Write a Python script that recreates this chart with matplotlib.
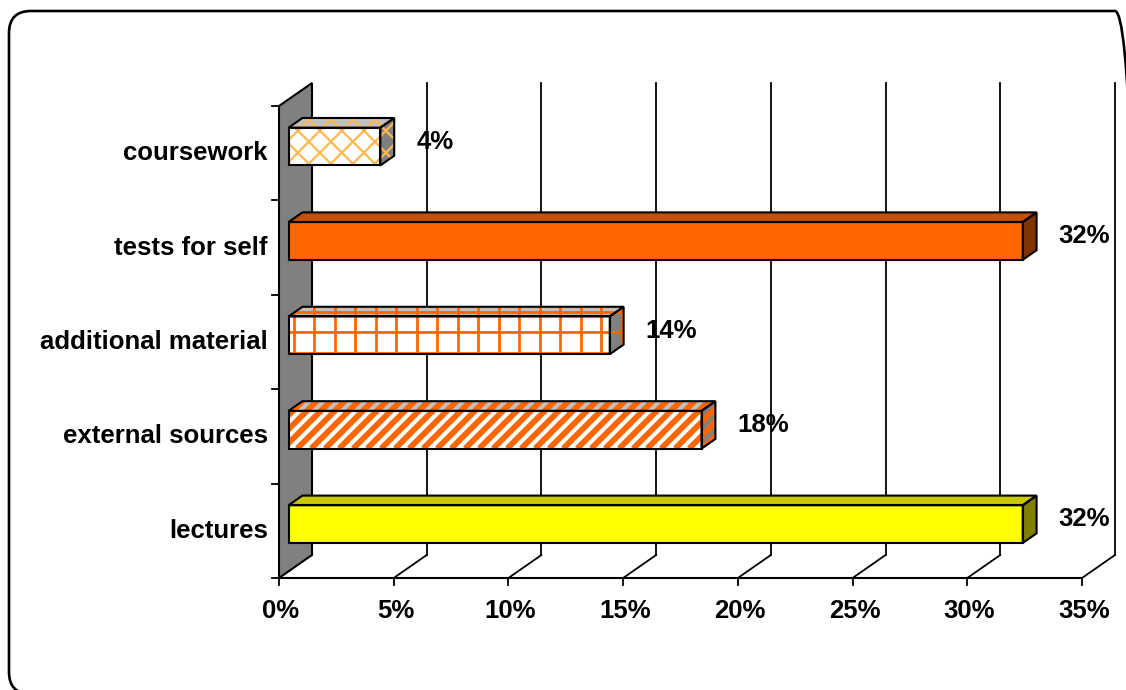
import numpy as np
import matplotlib
matplotlib.use("Agg")
import matplotlib.pyplot as plt
from matplotlib.patches import Polygon, FancyBboxPatch
from matplotlib.collections import LineCollection

plt.rcParams['font.family'] = ['Liberation Sans', 'DejaVu Sans']

# data (top to bottom as in the chart)
categories = ["coursework", "tests for self", "additional material", "external sources", "lectures"]
values = [4, 32, 14, 18, 32]
value_labels = ["4%", "32%", "14%", "18%", "32%"]
x_ticks = [0, 5, 10, 15, 20, 25, 30, 35]
x_tick_labels = ["0%", "5%", "10%", "15%", "20%", "25%", "30%", "35%"]

# face colours: front, top, side, pattern
styles = {
    "coursework": ("white", "#c0c0c0", "#808080", ("cross", "#ffb84d")),
    "tests for self": ("#ff6600", "#c65000", "#803300", None),
    "additional material": ("white", "#c0c0c0", "#808080", ("grid", "#ff6600")),
    "external sources": ("white", "#c0c0c0", "#808080", ("stripes", "#ff6600")),
    "lectures": ("#ffff00", "#c8c800", "#808000", None),
}

W, H = 1126, 690
fig = plt.figure(figsize=(W / 100, H / 100), dpi=100)
ax = fig.add_axes([279 / W, 112 / H, 803 / W, 472 / H])
ax.set_xlim(0, 35)
ax.set_ylim(0, 5)
ax.axis('off')

sx = 803 / 35.0   # px per percent
sy = 472 / 5.0    # px per category
ddx, ddy = 33 / sx, 23 / sy   # depth of the 3d box
f0, f1 = 0.29, 0.71           # bar depth range
bh = 0.40                     # bar height
fs = 18.5

n = len(categories)
top = n

# side wall
wall = Polygon([(0, 0), (ddx, ddy), (ddx, top + ddy), (0, top)], closed=True,
               facecolor="#808080", edgecolor="black", lw=1.5, zorder=2, clip_on=False)
ax.add_patch(wall)

# back gridlines and floor lines
for xt in x_ticks[1:]:
    ax.plot([xt + ddx, xt + ddx], [ddy, top + ddy], color="black", lw=1.3, zorder=1, clip_on=False)
    ax.plot([xt, xt + ddx], [0, ddy], color="black", lw=1.3, zorder=1, clip_on=False)
ax.plot([0, 35], [0, 0], color="black", lw=1.5, zorder=3, clip_on=False)

# ticks
for xt, lab in zip(x_ticks, x_tick_labels):
    ax.plot([xt, xt], [0, -7 / sy], color="black", lw=1.3, clip_on=False)
    ax.text(xt + 2 / sx, -33 / sy, lab, ha="center", va="center", fontsize=fs,
            fontweight="bold")
for k in range(n + 1):
    ax.plot([0, -7 / sx], [k, k], color="black", lw=1.3, clip_on=False)


def pattern_segments(kind, x0, x1, y0, y1):
    # screen aligned pattern, built in pixels then turned to data units
    px0, px1, py0, py1 = x0 * sx, x1 * sx, y0 * sy, y1 * sy
    segs = []
    if kind == "cross" or kind == "stripes":
        step = 22 if kind == "cross" else 14
        span = (px1 - px0) + (py1 - py0)
        for c in np.arange(px0 - (py1 - py0) - step, px1 + step, step):
            segs.append([(c / sx, py0 / sy), ((c + span) / sx, (py0 + span) / sy)])
            if kind == "cross":
                segs.append([(c / sx, py1 / sy), ((c + span) / sx, (py1 - span) / sy)])
    elif kind == "grid":
        step = 20.5
        for c in np.arange(px0 + 5, px1 + step, step):
            segs.append([(c / sx, y0), (c / sx, y1)])
        for c in np.arange(py1 - 5, py0 - step, -step):
            segs.append([(x0, c / sy), (x1, c / sy)])
    return segs


for k, (cat, v) in enumerate(zip(categories, values)):
    i = n - 1 - k
    front_c, top_c, side_c, pat = styles[cat]
    yb = i + 0.5 - bh / 2
    yt = i + 0.5 + bh / 2
    fx0, fy = f0 * ddx, f0 * ddy
    bx0, by = f1 * ddx, f1 * ddy
    front = [(fx0, yb + fy), (v + fx0, yb + fy), (v + fx0, yt + fy), (fx0, yt + fy)]
    topf = [(fx0, yt + fy), (v + fx0, yt + fy), (v + bx0, yt + by), (bx0, yt + by)]
    side = [(v + fx0, yb + fy), (v + bx0, yb + by), (v + bx0, yt + by), (v + fx0, yt + fy)]
    for pts, col in ((topf, top_c), (side, side_c), (front, front_c)):
        face = Polygon(pts, closed=True, facecolor=col, edgecolor="none", zorder=4, clip_on=False)
        ax.add_patch(face)
        if pat is not None:
            kind, pcol = pat
            lw = {"cross": 1.6, "grid": 2.0, "stripes": 4.2}[kind]
            segs = pattern_segments(kind, fx0, v + bx0, yb + fy, yt + by)
            lc = LineCollection(segs, colors=pcol, linewidths=lw, zorder=5)
            ax.add_collection(lc)
            lc.set_clip_path(face)
        ax.add_patch(Polygon(pts, closed=True, fill=False, edgecolor="black", lw=1.5,
                             zorder=6, clip_on=False))
    # value label
    ax.text(v + bx0 + 22 / sx, i + 0.5 + 0.5 * ddy, value_labels[k], ha="left", va="center",
            fontsize=fs, fontweight="bold")
    # category label
    ax.text(-11 / sx, i + 0.5, cat, ha="right", va="center", fontsize=fs, fontweight="bold")

# outer rounded frame
frame = FancyBboxPatch((9, -4), 1128, 683, boxstyle="round,pad=0,rounding_size=22",
                       transform=None, fill=False, edgecolor="black", lw=1.9)
fig.patches.append(frame)

fig.savefig("out.png", dpi=100)
